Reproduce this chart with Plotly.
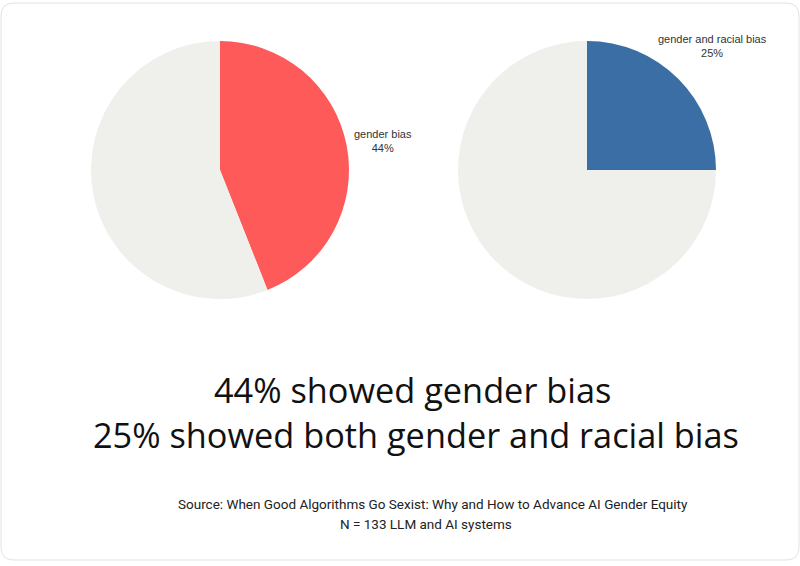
import plotly.graph_objects as go

# Data
pie1_labels = ["gender bias", "other"]
pie1_values = [44, 56]
pie2_labels = ["gender and racial bias", "other"]
pie2_values = [25, 75]

title_lines = ["44% showed gender bias", "25% showed both gender and racial bias"]
source_lines = ["Source: When Good Algorithms Go Sexist: Why and How to Advance AI Gender Equity",
                "N = 133 LLM and AI systems"]

W, H = 800, 566
GREY = "#EFEFEC"


def px_x(x):
    return x / W


def px_y(y):
    return 1 - y / H


fig = go.Figure()

pies = [
    (pie1_labels, pie1_values, "#FF5A5A", (91, 349), (382.5, 140.5)),
    (pie2_labels, pie2_values, "#3A6EA5", (458, 716), (712.5, 45.5)),
]
for labels, values, color, (xl, xr), (lx, ly) in pies:
    fig.add_trace(go.Pie(
        labels=labels, values=values, sort=False, direction="clockwise",
        marker=dict(colors=[color, GREY], line=dict(width=0)),
        textinfo="none",
        domain=dict(x=[px_x(xl), px_x(xr)], y=[px_y(299), px_y(41)]),
        showlegend=False, hoverinfo="label+percent",
    ))
    pct = round(100 * values[0] / sum(values))
    fig.add_annotation(
        x=px_x(lx), y=px_y(ly), xref="paper", yref="paper", showarrow=False,
        xanchor="center", yanchor="middle",
        text=f"{labels[0]}<br>{pct}%", align="center",
        font=dict(family="Liberation Sans", size=11, color="#333333"),
    )

# Title lines
for txt, (cx, cy) in zip(title_lines, [(412.5, 389), (416, 434)]):
    fig.add_annotation(
        x=px_x(cx), y=px_y(cy), xref="paper", yref="paper", showarrow=False,
        xanchor="center", yanchor="middle",
        text=txt, font=dict(family="Open Sans", size=34.3, color="#111111"),
    )

# Source lines
for txt, (cx, cy) in zip(source_lines, [(432.5, 503.5), (426, 523.5)]):
    fig.add_annotation(
        x=px_x(cx), y=px_y(cy), xref="paper", yref="paper", showarrow=False,
        xanchor="center", yanchor="middle",
        text=txt, font=dict(family="Roboto", size=13.5, color="#222222"),
    )

# rounded border
x0, y0, x1, y1, r = 1, 3, 799, 560, 13


def P(x, y):
    return f"{px_x(x)},{px_y(y)}"


path = (f"M {P(x0 + r, y0)} L {P(x1 - r, y0)} Q {P(x1, y0)} {P(x1, y0 + r)} "
        f"L {P(x1, y1 - r)} Q {P(x1, y1)} {P(x1 - r, y1)} "
        f"L {P(x0 + r, y1)} Q {P(x0, y1)} {P(x0, y1 - r)} "
        f"L {P(x0, y0 + r)} Q {P(x0, y0)} {P(x0 + r, y0)} Z")
fig.add_shape(type="path", path=path, xref="paper", yref="paper",
              line=dict(color="#E2E2E2", width=1))

fig.update_layout(
    width=W, height=H, margin=dict(l=0, r=0, t=0, b=0),
    paper_bgcolor="white", plot_bgcolor="white",
)

fig.write_html(
    "out.html",
    config={"displayModeBar": False},
    post_script="document.body.style.margin='0px';document.body.style.overflow='hidden';",
)
